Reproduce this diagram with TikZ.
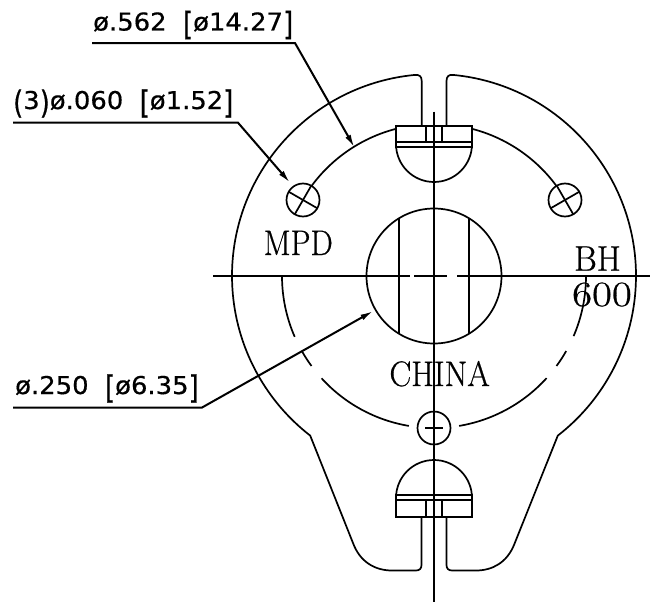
\documentclass[tikz,border=0pt]{standalone}
\usepackage{fontspec}
\newfontfamily\dimfont[FakeBold=0.5]{DejaVu Sans}
\newfontfamily\markfont[FakeBold=0.6]{Latin Modern Roman}
\usetikzlibrary{arrows.meta,calc}
\newcommand{\circarc}[3]{([shift={(#1:#3)}]434,-276) arc[start angle=#1,end angle=#2,radius=#3]}
\newcommand{\tallb}[1]{\raisebox{-4.5pt}{\scalebox{1}[1.3]{#1}}}
\tikzset{
  part/.style={line width=1.7pt,black},
  axis/.style={line width=1.9pt,black},
  leader/.style={line width=2pt,black},
  leadertip/.style={leader,-{Latex[length=13pt,width=6pt]}},
  dimtext/.style={anchor=base west,inner sep=0pt,font=\dimfont\fontsize{24.5}{26}\selectfont},
  marktext/.style={anchor=base,inner sep=0pt,font=\markfont\fontsize{35.5}{38}\selectfont}
}
\begin{document}
\begin{tikzpicture}[x=1pt,y=1pt]
\useasboundingbox (0,-605) rectangle (656,0);
\fill[white] (0,-605) rectangle (656,0);
% body outline
\draw[part,line join=round] (421.7,-125.7) -- (421.7,-81) .. controls (421.7,-76.5) and (419.5,-74.5) .. (415,-74.9)
  arc[start angle=95.4,end angle=232.2,radius=202]
  -- (353,-543) .. controls (360,-562) and (375,-570.5) .. (392,-570.5)
  -- (416,-570.5) .. controls (419.5,-570.5) and (421.5,-568.5) .. (421.5,-565) -- (421.5,-516.7);
\draw[part,line join=round] (446.5,-125.7) -- (446.5,-81) .. controls (446.5,-76.5) and (448.7,-74.5) .. (453,-74.9)
  arc[start angle=84.6,end angle=-52.2,radius=202]
  -- (514,-545) .. controls (507,-562) and (493,-570.5) .. (476,-570.5)
  -- (452,-570.5) .. controls (448.5,-570.5) and (446.5,-568.5) .. (446.5,-565) -- (446.5,-516.7);
% bolt circle
\draw[part] \circarc{143.7}{104.5}{152};
\draw[part] \circarc{75.5}{36.3}{152};
\draw[part] \circarc{180}{203.6}{152};
\draw[part] \circarc{209.8}{216.3}{152};
\draw[part] \circarc{222.3}{260.5}{152};
\draw[part] \circarc{279.5}{317.8}{152};
\draw[part] \circarc{323.7}{330.4}{152};
\draw[part] \circarc{336.7}{360}{152};
% centre bore
\draw[part] (434,-276) circle[radius=67.5];
\draw[part] (399,-219.3) -- (399,-333);
\draw[part] (469,-219.3) -- (469,-333);
% small holes
\draw[part] (303,-200) circle[radius=16.5];
\draw[part] (303,-200) ++(150:16.5) -- ++(-30:33);
\draw[part] (303,-200) ++(60:16.5) -- ++(240:33);
\draw[part] (565,-200) circle[radius=16.5];
\draw[part] (565,-200) ++(30:16.5) -- ++(210:33);
\draw[part] (565,-200) ++(120:16.5) -- ++(300:33);
\draw[part] (434,-428) circle[radius=16.5];
\draw[part] (425,-428) -- (443,-428);
% top screw
\draw[part] (396,-144) arc[start angle=180,end angle=360,radius=38];
\draw[line width=2pt] (395.7,-125.7) rectangle (472.3,-147);
\draw[part] (395.7,-142) -- (472.3,-142);
\draw[part] (425.7,-125.7) -- (425.7,-142);
\draw[part] (442,-125.7) -- (442,-142);
% bottom screw
\draw[part] (396,-498) arc[start angle=180,end angle=0,radius=38];
\draw[line width=2pt] (395.7,-495) rectangle (472.3,-516.7);
\draw[part] (395.7,-500) -- (472.3,-500);
\draw[part] (425.7,-500) -- (425.7,-516.7);
\draw[part] (442,-500) -- (442,-516.7);
% centre lines
\draw[axis] (434,-111.7) -- (434,-601.7);
\draw[axis] (213,-276) -- (410,-276);
\draw[axis] (414,-276) -- (447,-276);
\draw[axis] (457,-276) -- (650,-276);
% leaders
\coordinate (a1) at (92,-43);
\coordinate (a2) at (295,-43);
\coordinate (a3) at (354.5,-147.5);
\coordinate (b1) at (13,-122.7);
\coordinate (b2) at (238,-122.7);
\coordinate (b3) at (290,-182.7);
\coordinate (c1) at (13,-407.7);
\coordinate (c2) at (201.7,-407.7);
\coordinate (c3) at (373.3,-311);
\draw[leadertip] (a1) -- (a2) -- (a3);
\draw[leadertip] (b1) -- (b2) -- (b3);
\draw[leadertip] (c1) -- (c2) -- (c3);
% dimension text
\node[dimtext] (d1) at (93,-30.5) {\scalebox{1.056}[1]{ø.562\ \ \tallb{[}ø14.27\tallb{]}}};
\node[dimtext] (d2) at (13,-109) {\scalebox{1.056}[1]{\tallb{(}3\tallb{)}ø.060\ \ \tallb{[}ø1.52\tallb{]}}};
\node[dimtext] (d3) at (15,-394) {\scalebox{1.056}[1]{ø.250\ \ \tallb{[}ø6.35\tallb{]}}};
% markings
\node[marktext] (m1) at (298.3,-255) {\scalebox{.89}[1]{MPD}};
\node[marktext] (m2) at (597.5,-270.7) {\scalebox{.98}[1]{BH}};
\node[marktext] (m3) at (602,-306) {\scalebox{1.22}[1]{600}};
\node[marktext] (m4) at (439.7,-386) {\scalebox{.92}[1]{CHINA}};
\end{tikzpicture}
\end{document}
